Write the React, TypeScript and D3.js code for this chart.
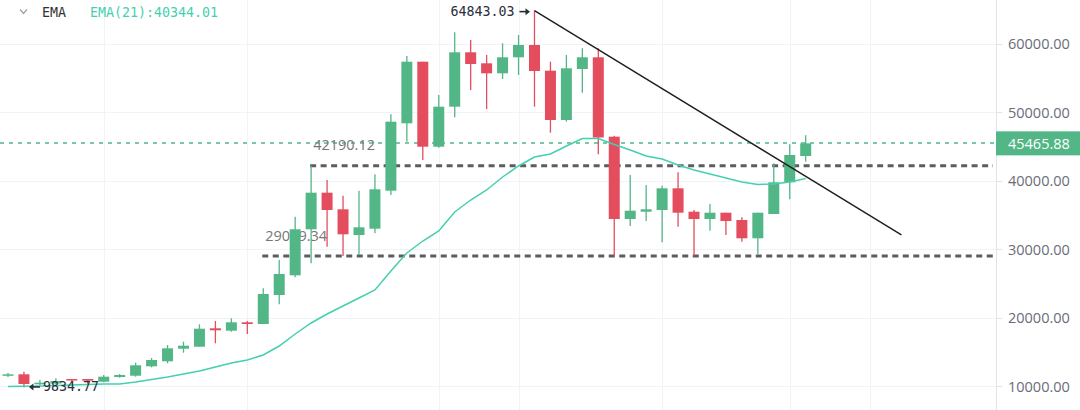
import React, { useEffect, useRef } from "react";
import * as d3 from "d3";

// weekly candles
const opens = [11547, 11752, 10292, 10409, 11066, 11066, 10672, 11358, 11547, 12920, 13650, 15489, 15781, 18467, 18117, 19343, 19095, 23328, 26204, 32920, 38263, 35839, 32088, 33007, 38555, 48394, 57387, 44978, 50818, 58759, 57153, 55693, 58029, 59825, 56073, 48876, 56321, 58029, 46438, 34423, 35489, 35737, 38905, 35489, 34423, 35343, 34277, 31606, 35153, 39781, 43621];
const closes = [11752, 10336, 10526, 10774, 10847, 10818, 11401, 11650, 13066, 13840, 15547, 15927, 18409, 18175, 19343, 19095, 23474, 26394, 32920, 38263, 35737, 32190, 33212, 38759, 48628, 57387, 44978, 50818, 58759, 57051, 55693, 58029, 59825, 56029, 48876, 56423, 58029, 46321, 34423, 35635, 35839, 38905, 35343, 34423, 35343, 34131, 31606, 35343, 39781, 43766, 45465.88];
const highs = [11942, 12131, 10920, 11168, 11066, 11066, 11650, 11796, 13445, 14131, 16029, 16511, 19051, 19533, 19927, 19533, 24307, 28438, 34759, 42190.12, 40117, 37825, 38555, 40949, 49708, 58219, 57387, 52526, 61679, 60555, 58365, 60073, 61285, 64843.03, 57387, 58365, 59343, 59343, 46584, 40847, 39387, 39285, 41241, 35737, 36613, 35343, 34671, 35343, 42555, 45328, 46643];
const lows = [11358, 9834.77, 10146, 10263, 10438, 10336, 10584, 11255, 11401, 12774, 13358, 14905, 15781, 16277, 17971, 17635, 19095, 21971, 25912, 27956, 30380, 29019.34, 29168, 32336, 37927, 45708, 43036, 44832, 49270, 53256, 50482, 54861, 55445, 50818, 47022, 48628, 52861, 43869, 29100, 33401, 34131, 31022, 33299, 29050, 32716, 32088, 31109, 29314, 35153, 37299, 42788];
const ema21 = [9970, 10000, 10044, 10117, 10190, 10263, 10336, 10336, 10628, 10993, 11358, 11796, 12234, 12818, 13402, 13840, 14569, 15883, 17635, 19241, 20555, 21723, 22891, 24059, 26832, 29460, 31212, 32672, 35446, 37197, 38657, 40555, 42161, 43475, 43913, 45081, 46175, 46175, 45300, 44497, 43621, 43183, 42307, 41577, 40993, 40409, 39825, 39460, 39533, 39825, 40344.01];

const priceTicks = [10000, 20000, 30000, 40000, 50000, 60000];
const timeGridIdx = [6, 15, 27, 32, 41, 49, 54];

// horizontal levels: value and the candle they start at
const levels = [
  { value: 42190.12, from: 19, label: "42190.12" },
  { value: 29019.34, from: 16, label: "29019.34" },
];
// trend line from the top to its end point
const trend = [
  { i: 33, v: 64843.03 },
  { i: 56, v: 32100 },
];
const lastPrice = 45465.88;
const emaLabel = "EMA(21):40344.01";

const UP = "#53b686";
const DOWN = "#e34d5d";
const EMA_COLOR = "#45cfb1";
const MONO = "'DejaVu Sans Mono', monospace";
const SANS = "'Open Sans', sans-serif";

const CandleChart = () => {
  const ref = useRef<SVGSVGElement | null>(null);

  useEffect(() => {
    const width = 1080;
    const height = 410;
    const axisX = 996;

    const svg = d3.select(ref.current);
    svg.selectAll("*").remove();
    svg.attr("width", width).attr("height", height);

    const x = d3.scaleLinear().domain([0, 50]).range([8, 805.7]);
    const y = d3.scaleLinear().domain([10000, 60000]).range([386.3, 43.8]);

    svg.append("rect").attr("width", width).attr("height", height).attr("fill", "#fff");

    // grid
    svg
      .append("g")
      .selectAll("line")
      .data(priceTicks)
      .enter()
      .append("line")
      .attr("x1", 0)
      .attr("x2", axisX)
      .attr("y1", (d) => Math.round(y(d)) + 0.5)
      .attr("y2", (d) => Math.round(y(d)) + 0.5)
      .attr("stroke", "#f0f3fa")
      .attr("stroke-width", 1);
    svg
      .append("g")
      .selectAll("line")
      .data(timeGridIdx)
      .enter()
      .append("line")
      .attr("x1", (d) => Math.round(x(d)) + 0.5)
      .attr("x2", (d) => Math.round(x(d)) + 0.5)
      .attr("y1", 0)
      .attr("y2", height)
      .attr("stroke", "#f0f3fa")
      .attr("stroke-width", 1);

    // last price dashed line
    const lpY = Math.round(y(lastPrice));
    svg
      .append("line")
      .attr("x1", 0)
      .attr("x2", axisX)
      .attr("y1", lpY)
      .attr("y2", lpY)
      .attr("stroke", UP)
      .attr("stroke-width", 1.6)
      .attr("stroke-dasharray", "4,5");

    // support / resistance levels
    const lv = svg.append("g");
    lv.selectAll("line")
      .data(levels)
      .enter()
      .append("line")
      .attr("x1", (d) => x(d.from) - 1)
      .attr("x2", 993)
      .attr("y1", (d) => y(d.value))
      .attr("y2", (d) => y(d.value))
      .attr("stroke", "#5d5d5d")
      .attr("stroke-width", 3)
      .attr("stroke-dasharray", "6,4.5");
    lv.selectAll("text")
      .data(levels)
      .enter()
      .append("text")
      .attr("x", (d) => x(d.from) + 2)
      .attr("y", (d) => y(d.value) - 15.5)
      .attr("font-family", SANS)
      .attr("font-size", 14.5)
      .attr("fill", "#767676")
      .text((d) => d.label);

    // candles
    const idx = d3.range(opens.length);
    const cg = svg.append("g");
    const color = (i: number) => (closes[i] >= opens[i] ? UP : DOWN);
    cg.selectAll("line")
      .data(idx)
      .enter()
      .append("line")
      .attr("x1", (i) => x(i))
      .attr("x2", (i) => x(i))
      .attr("y1", (i) => y(highs[i]))
      .attr("y2", (i) => y(lows[i]))
      .attr("stroke", color)
      .attr("stroke-width", 1.3);
    cg.selectAll("rect")
      .data(idx)
      .enter()
      .append("rect")
      .attr("x", (i) => x(i) - 5.5)
      .attr("width", 11)
      .attr("y", (i) => y(Math.max(opens[i], closes[i])))
      .attr("height", (i) => Math.max(1.5, Math.abs(y(opens[i]) - y(closes[i]))))
      .attr("fill", color);

    // EMA
    const line = d3
      .line<number>()
      .x((d, i) => x(i))
      .y((d) => y(d));
    svg
      .append("path")
      .datum(ema21)
      .attr("d", line)
      .attr("fill", "none")
      .attr("stroke", EMA_COLOR)
      .attr("stroke-width", 1.5);

    // trend line
    svg
      .append("line")
      .attr("x1", x(trend[0].i))
      .attr("y1", y(trend[0].v))
      .attr("x2", x(trend[1].i))
      .attr("y2", y(trend[1].v))
      .attr("stroke", "#1e1e1e")
      .attr("stroke-width", 1.4);

    // high / low markers with small arrows
    const hiIdx = highs.indexOf(d3.max(highs) as number);
    const loIdx = lows.indexOf(d3.min(lows) as number);
    const hx = x(hiIdx);
    const hy = y(highs[hiIdx]) + 1;
    svg
      .append("text")
      .attr("x", hx - 20)
      .attr("y", hy + 4.5)
      .attr("text-anchor", "end")
      .attr("font-family", MONO)
      .attr("font-size", 13.3)
      .attr("fill", "#2a2e39")
      .text(d3.format(".2f")(highs[hiIdx]));
    svg
      .append("path")
      .attr("d", `M${hx - 15},${hy} H${hx - 8}`)
      .attr("stroke", "#2a2e39")
      .attr("stroke-width", 1.6);
    svg
      .append("path")
      .attr("d", `M${hx - 9},${hy - 3.5} L${hx - 4.5},${hy} L${hx - 9},${hy + 3.5} Z`)
      .attr("fill", "#2a2e39");

    const lx = x(loIdx);
    const ly = y(lows[loIdx]) - 0.5;
    svg
      .append("path")
      .attr("d", `M${lx + 9},${ly} H${lx + 16}`)
      .attr("stroke", "#2a2e39")
      .attr("stroke-width", 1.6);
    svg
      .append("path")
      .attr("d", `M${lx + 9.5},${ly - 3.5} L${lx + 5},${ly} L${lx + 9.5},${ly + 3.5} Z`)
      .attr("fill", "#2a2e39");
    svg
      .append("text")
      .attr("x", lx + 19)
      .attr("y", ly + 4.5)
      .attr("font-family", MONO)
      .attr("font-size", 13.3)
      .attr("fill", "#2a2e39")
      .text(d3.format(".2f")(lows[loIdx]));

    // right price axis
    svg
      .append("rect")
      .attr("x", axisX)
      .attr("y", 0)
      .attr("width", width - axisX)
      .attr("height", height)
      .attr("fill", "#fff");
    svg
      .append("line")
      .attr("x1", axisX + 0.5)
      .attr("x2", axisX + 0.5)
      .attr("y1", 0)
      .attr("y2", height)
      .attr("stroke", "#e0e3eb");
    const ax = svg.append("g");
    ax.selectAll("line")
      .data(priceTicks)
      .enter()
      .append("line")
      .attr("x1", axisX)
      .attr("x2", axisX + 6)
      .attr("y1", (d) => Math.round(y(d)) + 0.5)
      .attr("y2", (d) => Math.round(y(d)) + 0.5)
      .attr("stroke", "#e0e3eb");
    ax.selectAll("text")
      .data(priceTicks)
      .enter()
      .append("text")
      .attr("x", 1008)
      .attr("y", (d) => y(d) + 5.5)
      .attr("font-family", SANS)
      .attr("font-size", 14.5)
      .attr("fill", "#6a6d78")
      .text((d) => d3.format(".2f")(d));

    svg
      .append("rect")
      .attr("x", axisX)
      .attr("y", y(lastPrice) - 12)
      .attr("width", width - axisX)
      .attr("height", 24)
      .attr("fill", UP);
    svg
      .append("text")
      .attr("x", 1008)
      .attr("y", y(lastPrice) + 5.5)
      .attr("font-family", SANS)
      .attr("font-size", 14.5)
      .attr("fill", "#fff")
      .text(d3.format(".2f")(lastPrice));

    // legend
    svg
      .append("path")
      .attr("d", "M20,9.5 L23.5,13.5 L27,9.5")
      .attr("fill", "none")
      .attr("stroke", "#9aa0a6")
      .attr("stroke-width", 1.2);
    svg
      .append("text")
      .attr("x", 42)
      .attr("y", 16.5)
      .attr("font-family", MONO)
      .attr("font-size", 13.3)
      .attr("fill", "#333")
      .text("EMA");
    svg
      .append("text")
      .attr("x", 90)
      .attr("y", 16.5)
      .attr("font-family", MONO)
      .attr("font-size", 13.3)
      .attr("fill", EMA_COLOR)
      .text(emaLabel);
  }, []);

  return <svg ref={ref} style={{ display: "block" }} />;
};

export default function App() {
  return (
    <div style={{ position: "fixed", left: 0, top: 0 }}>
      <CandleChart />
    </div>
  );
}
